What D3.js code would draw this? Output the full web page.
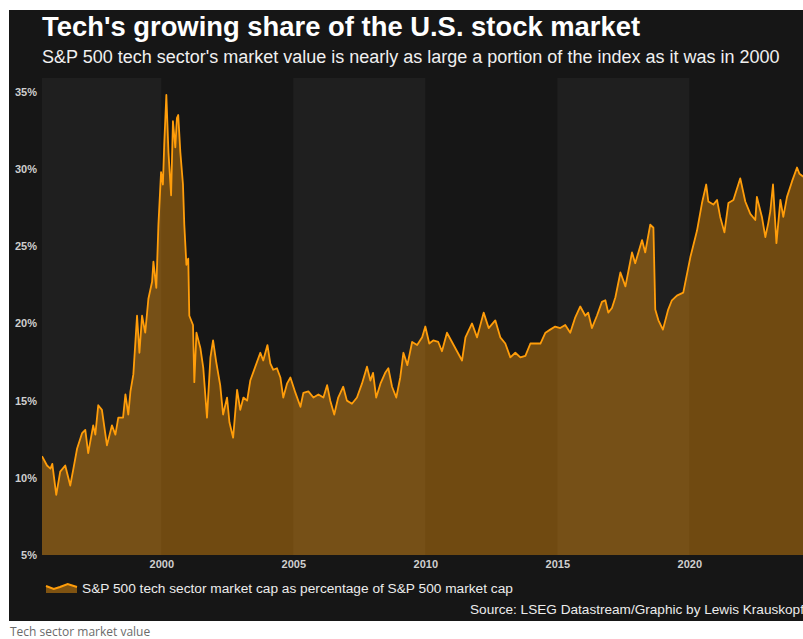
<!DOCTYPE html>
<html>
<head>
<meta charset="utf-8">
<script src="https://cdn.jsdelivr.net/npm/d3@7"></script>
<style>
  body { margin: 0; background: #fff; }
  svg { display: block; font-family: "Liberation Sans", Arial, sans-serif; }
</style>
</head>
<body>
<svg id="chart" width="803" height="639"></svg>
<script>
var dates = [
  1995.48, 1995.67, 1995.80, 1995.87, 1996.02, 1996.17, 1996.36, 1996.55, 1996.67, 1996.81,
  1997.00, 1997.12, 1997.23, 1997.42, 1997.50, 1997.61, 1997.75, 1997.94, 1998.13, 1998.26,
  1998.37, 1998.55, 1998.64, 1998.75, 1998.83, 1998.94, 1999.08, 1999.17, 1999.27, 1999.39,
  1999.51, 1999.65, 1999.70, 1999.81, 1999.89, 1999.99, 2000.06, 2000.11, 2000.19, 2000.27,
  2000.37, 2000.44, 2000.53, 2000.59, 2000.64, 2000.72, 2000.82, 2000.87, 2000.95, 2001.02,
  2001.06, 2001.20, 2001.25, 2001.33, 2001.48, 2001.59, 2001.73, 2001.86, 2001.96, 2002.08,
  2002.23, 2002.34, 2002.49, 2002.58, 2002.72, 2002.87, 2002.99, 2003.11, 2003.25, 2003.37,
  2003.56, 2003.75, 2003.86, 2004.02, 2004.13, 2004.24, 2004.38, 2004.51, 2004.62, 2004.76,
  2004.89, 2005.08, 2005.27, 2005.38, 2005.57, 2005.76, 2005.95, 2006.14, 2006.28, 2006.40,
  2006.55, 2006.70, 2006.89, 2007.03, 2007.22, 2007.41, 2007.60, 2007.79, 2007.92, 2008.02,
  2008.14, 2008.30, 2008.48, 2008.60, 2008.74, 2008.90, 2009.05, 2009.17, 2009.32, 2009.50,
  2009.69, 2009.88, 2010.00, 2010.15, 2010.30, 2010.49, 2010.63, 2010.82, 2011.01, 2011.20,
  2011.39, 2011.52, 2011.77, 2011.96, 2012.21, 2012.40, 2012.65, 2012.84, 2013.03, 2013.22,
  2013.41, 2013.60, 2013.79, 2013.98, 2014.17, 2014.36, 2014.55, 2014.73, 2014.92, 2015.11,
  2015.30, 2015.49, 2015.68, 2015.87, 2016.06, 2016.17, 2016.31, 2016.50, 2016.69, 2016.82,
  2016.93, 2017.07, 2017.20, 2017.39, 2017.58, 2017.83, 2017.95, 2018.21, 2018.33, 2018.52,
  2018.64, 2018.71, 2018.83, 2019.00, 2019.20, 2019.34, 2019.53, 2019.77, 2020.04, 2020.29,
  2020.48, 2020.64, 2020.72, 2020.91, 2021.05, 2021.17, 2021.33, 2021.48, 2021.67, 2021.93,
  2022.12, 2022.31, 2022.50, 2022.56, 2022.75, 2022.88, 2022.99, 2023.07, 2023.17, 2023.30,
  2023.45, 2023.56, 2023.70, 2023.89, 2024.08, 2024.17, 2024.32
];

var shares = [
  11.4, 10.8, 10.6, 10.9, 8.9, 10.4, 10.8, 9.5, 10.6, 11.9,
  12.9, 13.1, 11.6, 13.4, 12.8, 14.7, 14.4, 12.1, 13.4, 12.8,
  13.9, 13.9, 15.4, 14.1, 15.6, 16.7, 20.5, 18.1, 20.5, 19.4,
  21.6, 22.7, 24.0, 22.3, 26.4, 29.8, 29.0, 31.6, 34.8, 31.1,
  28.3, 33.1, 31.4, 33.3, 33.5, 31.1, 29.0, 26.4, 23.8, 24.2,
  20.5, 19.9, 16.2, 19.4, 18.4, 17.1, 13.9, 17.8, 18.9, 17.5,
  16.0, 14.1, 15.2, 13.6, 12.6, 15.7, 14.4, 15.2, 15.0, 16.3,
  17.2, 18.1, 17.6, 18.6, 17.4, 17.0, 17.1, 16.5, 15.2, 16.1,
  16.5, 15.5, 14.6, 15.5, 15.6, 15.2, 15.4, 15.2, 16.0, 15.0,
  14.1, 15.2, 15.9, 15.0, 14.8, 15.2, 16.1, 17.2, 16.3, 16.8,
  15.2, 16.1, 16.8, 17.1, 15.9, 15.2, 16.5, 18.1, 17.3, 18.8,
  18.6, 19.1, 19.8, 18.7, 18.9, 18.8, 18.2, 19.4, 18.8, 18.2,
  17.6, 19.1, 20.0, 19.1, 20.7, 19.7, 20.2, 19.1, 18.7, 17.8,
  18.1, 17.8, 17.9, 18.7, 18.7, 18.7, 19.4, 19.6, 19.8, 19.7,
  19.9, 19.4, 20.4, 21.1, 20.5, 20.7, 19.7, 20.5, 21.4, 21.5,
  20.7, 21.0, 21.7, 23.3, 22.4, 24.6, 23.9, 25.4, 24.6, 26.4,
  26.2, 20.9, 20.2, 19.6, 20.9, 21.5, 21.8, 22.0, 24.3, 26.0,
  27.8, 29.0, 27.9, 27.7, 28.0, 26.9, 25.9, 27.8, 28.0, 29.4,
  27.9, 27.1, 26.7, 28.2, 26.9, 25.6, 26.5, 27.3, 29.0, 25.2,
  28.0, 26.9, 28.2, 29.2, 30.1, 29.7, 29.5
];

var xTicks = [2000, 2005, 2010, 2015, 2020],
  yTicks = [5, 10, 15, 20, 25, 30, 35],
  bands = [[1995.48, 2000], [2005, 2010], [2015, 2020]];

var orange = "#ff9d0a",
  plot = {left: 42, right: 806, top: 78, bottom: 555};

var svg = d3.select("#chart"),
  series = dates.map(function(d, i) { return [d, shares[i]]; });

var x = d3.scaleLinear()
  .domain([1995.48, 2024.42])
  .range([plot.left, plot.right]);

var y = d3.scaleLinear()
  .domain([5, 35.9])
  .range([plot.bottom, plot.top]);

// Dark panel
svg.append("rect")
  .attr("x", 9).attr("y", 10)
  .attr("width", 800).attr("height", 611)
  .attr("fill", "#161616");

svg.append("text")
  .attr("x", 42).attr("y", 36)
  .attr("fill", "#fff")
  .attr("font-size", 27.4)
  .attr("font-weight", "bold")
  .text("Tech's growing share of the U.S. stock market");

svg.append("text")
  .attr("x", 42).attr("y", 63)
  .attr("fill", "#f0f0f0")
  .attr("font-size", 18)
  .text("S&P 500 tech sector's market value is nearly as large a portion of the index as it was in 2000");

svg.append("clipPath").attr("id", "plot-clip")
  .append("rect")
  .attr("x", plot.left).attr("y", plot.top)
  .attr("width", 803 - plot.left).attr("height", plot.bottom - plot.top);

var g = svg.append("g").attr("clip-path", "url(#plot-clip)");

// Alternating five-year bands
g.selectAll("rect.band")
  .data(bands)
  .enter().append("rect")
    .attr("class", "band")
    .attr("x", function(d) { return x(d[0]); })
    .attr("width", function(d) { return x(d[1]) - x(d[0]); })
    .attr("y", plot.top)
    .attr("height", plot.bottom - plot.top)
    .attr("fill", "#1f1f1f");

g.append("path")
  .datum(series)
  .attr("fill", orange)
  .attr("fill-opacity", 0.39)
  .attr("d", d3.area()
    .x(function(d) { return x(d[0]); })
    .y0(y(5))
    .y1(function(d) { return y(d[1]); }));

g.append("path")
  .datum(series)
  .attr("fill", "none")
  .attr("stroke", orange)
  .attr("stroke-width", 1.8)
  .attr("stroke-linejoin", "round")
  .attr("d", d3.line()
    .x(function(d) { return x(d[0]); })
    .y(function(d) { return y(d[1]); }));

// Axes
var yAxis = svg.append("g")
  .attr("transform", "translate(" + plot.left + ",0)")
  .call(d3.axisLeft(y)
    .tickValues(yTicks)
    .tickSize(0)
    .tickPadding(5)
    .tickFormat(function(d) { return d + "%"; }));

var xAxis = svg.append("g")
  .attr("transform", "translate(0," + plot.bottom + ")")
  .call(d3.axisBottom(x)
    .tickValues(xTicks)
    .tickSize(0)
    .tickPadding(5)
    .tickFormat(d3.format("d")));

[xAxis, yAxis].forEach(function(a) {
  a.select(".domain").remove();
  a.selectAll("text")
    .attr("fill", "#cfcfcf")
    .attr("font-size", 11)
    .attr("font-weight", "bold")
    .attr("font-family", "'Liberation Sans', Arial, sans-serif");
});

// Legend
var legend = svg.append("g").attr("transform", "translate(46,583)");
var swatch = [[0, 3], [0.25, 6], [0.45, 4], [0.7, 1], [1, 4]];
var sx = d3.scaleLinear().domain([0, 1]).range([0, 31]);

legend.append("path")
  .datum(swatch)
  .attr("fill", orange)
  .attr("fill-opacity", 0.45)
  .attr("d", d3.area()
    .x(function(d) { return sx(d[0]); })
    .y0(10)
    .y1(function(d) { return d[1]; }));

legend.append("path")
  .datum(swatch)
  .attr("fill", "none")
  .attr("stroke", orange)
  .attr("stroke-width", 2)
  .attr("d", d3.line()
    .x(function(d) { return sx(d[0]); })
    .y(function(d) { return d[1]; }));

svg.append("text")
  .attr("x", 82).attr("y", 593)
  .attr("fill", "#ececec")
  .attr("font-size", 13.7)
  .text("S&P 500 tech sector market cap as percentage of S&P 500 market cap");

svg.append("text")
  .attr("x", 470).attr("y", 614)
  .attr("fill", "#ececec")
  .attr("font-size", 13.6)
  .text("Source: LSEG Datastream/Graphic by Lewis Krauskopf");

// Caption below the graphic
svg.append("text")
  .attr("x", 10).attr("y", 636)
  .attr("fill", "#6b6b6b")
  .attr("font-size", 12)
  .attr("font-family", "'Open Sans', sans-serif")
  .text("Tech sector market value");
</script>
</body>
</html>
